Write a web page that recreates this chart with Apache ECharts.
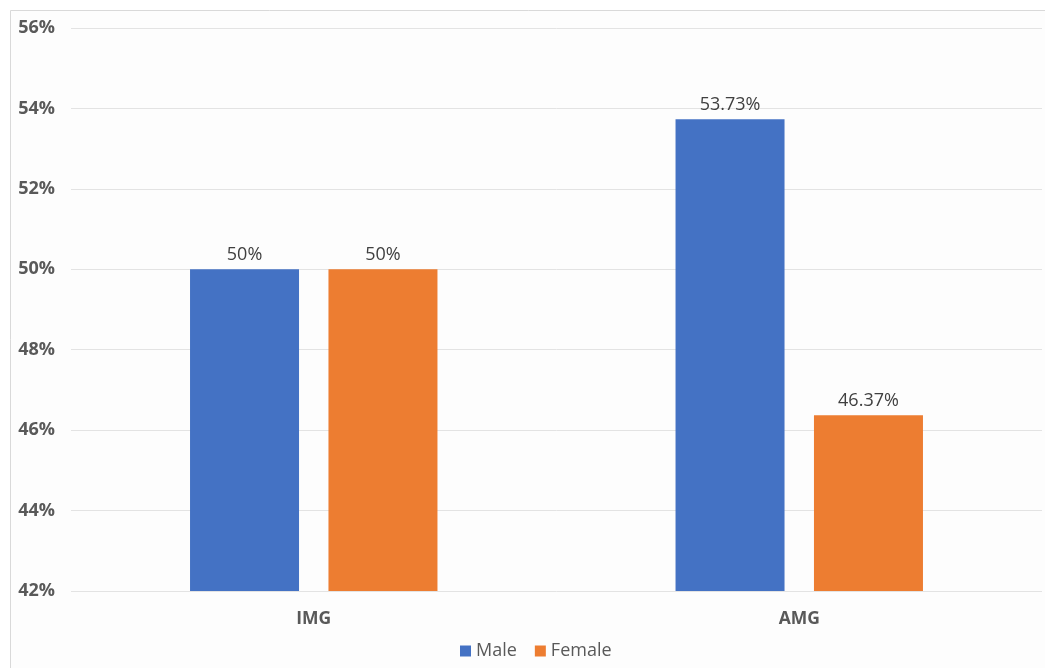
<!DOCTYPE html>
<html>
<head>
<meta charset="utf-8">
<script src="https://cdn.jsdelivr.net/npm/echarts@6/dist/echarts.min.js"></script>
<style>
html,body{margin:0;padding:0;background:#ffffff;}
#c{width:1045px;height:668px;}
</style>
</head>
<body>
<div id="c"></div>
<script>
var categories = ['IMG', 'AMG'];
var maleValues = [50, 53.73];
var femaleValues = [50, 46.37];
var maleLabels = ['50%', '53.73%'];
var femaleLabels = ['50%', '46.37%'];

var chart = echarts.init(document.getElementById('c'));
var font = '"Open Sans", sans-serif';
chart.setOption({
  backgroundColor: '#ffffff',
  animation: false,
  textStyle: { fontFamily: font },
  graphic: [{
    type: 'rect',
    shape: { x: 10.5, y: 10.5, width: 1100, height: 700 },
    style: { fill: '#fdfdfd', stroke: '#d9d9d9', lineWidth: 1 },
    z: -10
  }],
  grid: { left: 71, right: 3, top: 28, bottom: 77, containLabel: false },
  legend: {
    top: 637,
    left: 455,
    itemWidth: 11,
    itemHeight: 11,
    itemGap: 18,
    icon: 'rect',
    textStyle: { fontFamily: font, fontSize: 18, color: '#595959' },
    data: ['Male', 'Female']
  },
  xAxis: {
    type: 'category',
    data: categories,
    axisLine: { show: false },
    axisTick: { show: false },
    axisLabel: { fontFamily: font, fontSize: 17.5, fontWeight: 'bold', color: '#595959', margin: 19 }
  },
  yAxis: {
    type: 'value',
    min: 42,
    max: 56,
    interval: 2,
    axisLine: { show: false },
    axisTick: { show: false },
    splitLine: { lineStyle: { color: '#e3e3e3', width: 1 } },
    axisLabel: { fontFamily: font, fontSize: 18, fontWeight: 'bold', color: '#595959', margin: 16,
      formatter: function (v) { return v + '%'; } }
  },
  series: [{
    name: 'Male',
    type: 'bar',
    data: maleValues,
    barWidth: 109,
    barGap: '27%',
    itemStyle: { color: '#4472C4' },
    label: { show: true, position: 'top', distance: 5, fontFamily: font, fontSize: 18, color: '#404040',
      formatter: function (p) { return maleLabels[p.dataIndex]; } }
  }, {
    name: 'Female',
    type: 'bar',
    data: femaleValues,
    barWidth: 109,
    itemStyle: { color: '#ED7D31' },
    label: { show: true, position: 'top', distance: 5, fontFamily: font, fontSize: 18, color: '#404040',
      formatter: function (p) { return femaleLabels[p.dataIndex]; } }
  }]
});
</script>
</body>
</html>
